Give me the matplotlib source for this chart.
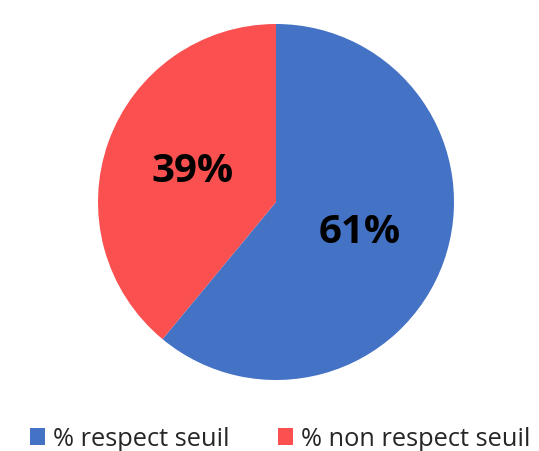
import matplotlib
matplotlib.use("Agg")
import matplotlib.pyplot as plt

labels = ["% respect seuil", "% non respect seuil"]
values = [61, 39]
colors = ["#4472C4", "#FA5050"]

plt.rcParams['font.family'] = ['Open Sans', 'DejaVu Sans']

fig = plt.figure(figsize=(5.39, 4.51), dpi=100)
cx, cy, r = 276, 202, 178
W, H = 539, 451
ax = fig.add_axes([(cx - r) / W, (H - cy - r) / H, 2 * r / W, 2 * r / H])

wedges, texts, autotexts = ax.pie(values, colors=colors, startangle=90, counterclock=False,
                                  autopct='%1.0f%%', pctdistance=0.5, radius=1,
                                  wedgeprops=dict(linewidth=0))
for t in autotexts:
    t.set_fontsize(29)
    t.set_fontweight('bold')
    t.set_color('black')
ax.set_xlim(-1, 1)
ax.set_ylim(-1, 1)
ax.axis('off')

fig.legend(wedges, labels, loc='center', bbox_to_anchor=(280 / W, 12 / H), ncol=2,
           frameon=False, fontsize=18.3, handlelength=0.6, handleheight=0.6,
           handletextpad=0.3, columnspacing=1.9, labelcolor='#262626')

fig.savefig("out.png", dpi=100)
